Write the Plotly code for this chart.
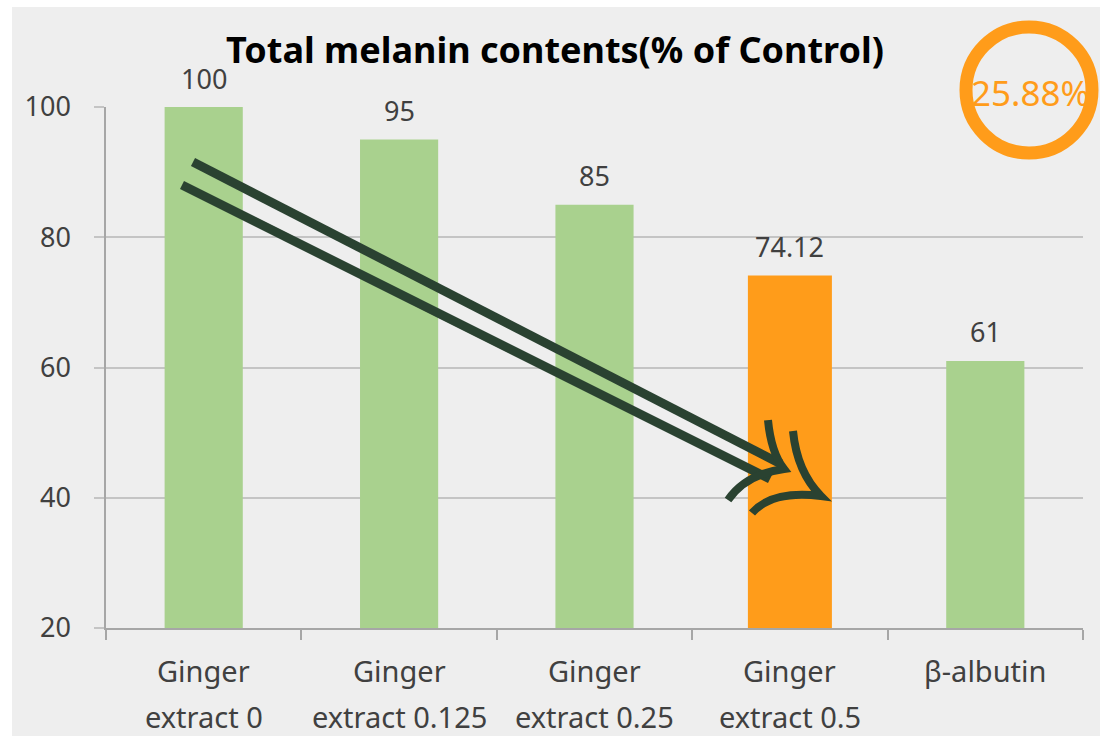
import plotly.graph_objects as go

# ---- data ----
categories = ["Ginger extract 0", "Ginger extract 0.125", "Ginger extract 0.25",
              "Ginger extract 0.5", "β-albutin"]
cat_line1 = ["Ginger", "Ginger", "Ginger", "Ginger", "β-albutin"]
cat_line2 = ["extract 0", "extract 0.125", "extract 0.25", "extract 0.5", ""]
values = [100, 95, 85, 74.12, 61]
bar_colors = ["#A9D18E", "#A9D18E", "#A9D18E", "#FF9C1A", "#A9D18E"]
bar_widths = [0.40, 0.40, 0.40, 0.43, 0.40]
y_ticks = [20, 40, 60, 80, 100]
title_text = "Total melanin contents(% of Control)"
reduction_text = "25.88%"

W, H = 1103, 736
L, R, T, B = 106, 20, 107, 108
PW, PH = W - L - R, H - T - B


def px(x):
    return (x - L) / PW


def py(y):
    return (H - B - y) / PH


FONT = "Noto Sans, Open Sans, DejaVu Sans, sans-serif"
ORANGE = "#FF9C1A"
ARROW = "#2A4231"
TXT = "#404040"

fig = go.Figure()
fig.add_trace(go.Bar(
    x=categories, y=values, width=bar_widths,
    marker=dict(color=bar_colors, line=dict(width=0)),
    hoverinfo="x+y",
))

annotations = []
# data labels
for c, v in zip(categories, values):
    annotations.append(dict(x=c, y=v, xref="x", yref="y", text=f"{v:g}",
                            showarrow=False, yanchor="middle", yshift=29,
                            font=dict(family=FONT, size=27, color=TXT)))
# category labels (two lines with wide spacing)
for c, l1, l2 in zip(categories, cat_line1, cat_line2):
    annotations.append(dict(x=c, y=py(670), xref="x", yref="paper", text=l1,
                            showarrow=False, yanchor="middle",
                            font=dict(family=FONT, size=29, color=TXT)))
    if l2:
        annotations.append(dict(x=c, y=py(716), xref="x", yref="paper", text=l2,
                                showarrow=False, yanchor="middle",
                                font=dict(family=FONT, size=29, color=TXT)))
# percent inside circle
annotations.append(dict(x=px(1030), y=py(93), xref="paper", yref="paper",
                        text=reduction_text, showarrow=False,
                        xanchor="center", yanchor="middle",
                        font=dict(family=FONT, size=35, color=ORANGE)))


def path(points_cmds):
    out = []
    for cmd, pts in points_cmds:
        coords = " ".join(f"{px(a):.5f},{py(b):.5f}" for a, b in pts)
        out.append(f"{cmd}{coords}")
    return " ".join(out)


shapes = []
# white frame strips around the gray panel
shapes.append(dict(type="rect", xref="paper", yref="paper", x0=px(0), x1=px(W),
                   y0=py(7), y1=py(0), fillcolor="white", line=dict(width=0), layer="above"))
shapes.append(dict(type="rect", xref="paper", yref="paper", x0=px(0), x1=px(12),
                   y0=py(H), y1=py(0), fillcolor="white", line=dict(width=0), layer="above"))
shapes.append(dict(type="rect", xref="paper", yref="paper", x0=px(1100), x1=px(W),
                   y0=py(H), y1=py(0), fillcolor="white", line=dict(width=0), layer="above"))
# arrow shafts
shapes.append(dict(type="path", xref="paper", yref="paper",
                   path=path([("M", [(193, 162)]), ("L", [(781, 464)])]),
                   line=dict(color=ARROW, width=9), layer="above"))
shapes.append(dict(type="path", xref="paper", yref="paper",
                   path=path([("M", [(182, 185)]), ("L", [(770, 479)])]),
                   line=dict(color=ARROW, width=9), layer="above"))
# arrow heads (curved chevrons)
shapes.append(dict(type="path", xref="paper", yref="paper",
                   path=path([("M", [(768, 420)]), ("Q", [(771, 452), (784, 469)]),
                              ("Q", [(746, 474), (728, 500)])]),
                   line=dict(color=ARROW, width=8), layer="above"))
shapes.append(dict(type="path", xref="paper", yref="paper",
                   path=path([("M", [(793, 431)]), ("Q", [(797, 472), (821, 496)]),
                              ("Q", [(772, 490), (752, 513)])]),
                   line=dict(color=ARROW, width=8), layer="above"))
# orange ring
shapes.append(dict(type="circle", xref="paper", yref="paper",
                   x0=px(1029 - 63), x1=px(1029 + 63), y0=py(90 + 63), y1=py(90 - 63),
                   line=dict(color=ORANGE, width=13), fillcolor="rgba(0,0,0,0)",
                   layer="above"))

fig.update_layout(
    width=W, height=H, autosize=False,
    margin=dict(l=L, r=R, t=T, b=B, pad=0),
    paper_bgcolor="#EEEEEE", plot_bgcolor="rgba(0,0,0,0)",
    showlegend=False,
    title=dict(text=f"<b>{title_text}</b>", x=555 / W, xanchor="center",
               y=1 - 50 / H, yanchor="middle", xref="container", yref="container",
               font=dict(family=FONT, size=36, color="#000000")),
    xaxis=dict(type="category", range=[-0.5, 4.5], showgrid=False, zeroline=False,
               showline=True, linecolor="#A6A6A6", linewidth=1.5,
               ticks="outside", tickson="boundaries", ticklen=10,
               tickcolor="#A6A6A6", tickwidth=1.5, showticklabels=False),
    yaxis=dict(range=[20, 100], tickvals=y_ticks, showgrid=True,
               gridcolor="#C4C4C4", gridwidth=1.5, zeroline=False,
               showline=True, linecolor="#A6A6A6", linewidth=1.5,
               ticks="outside", ticklen=10, tickcolor="#C4C4C4", tickwidth=1.5,
               ticklabelstandoff=18,
               tickfont=dict(family=FONT, size=27, color=TXT)),
    annotations=annotations,
    shapes=shapes,
    bargap=0.6,
)

fig.write_html("out.html",
               config={"displayModeBar": False},
               post_script="document.body.style.margin='0px';document.body.style.padding='0px';")
